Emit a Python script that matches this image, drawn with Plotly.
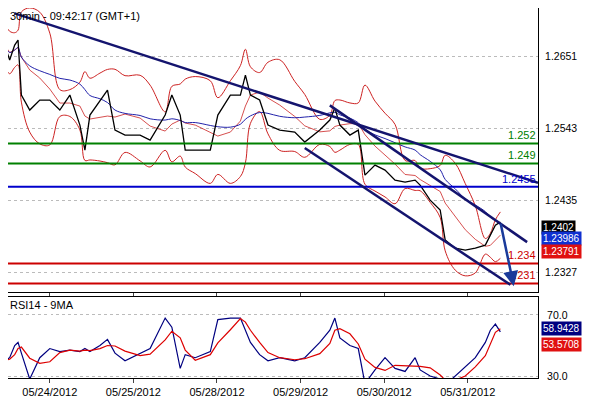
import plotly.graph_objects as go
from plotly.subplots import make_subplots
import pandas as pd

# time in trading days from 05/24/2012 00:00
t_day = [-0.54, -0.48, -0.42, -0.38, -0.34, -0.24, -0.12, 0, 0.12, 0.24, 0.36, 0.42, 0.48, 0.6, 0.69, 0.78,
         0.9, 1.08, 1.2, 1.38, 1.46, 1.56, 1.62, 1.74, 1.92, 2.01, 2.16, 2.28, 2.34, 2.4, 2.51, 2.61, 2.75,
         2.93, 3.05, 3.23, 3.35, 3.41, 3.47, 3.59, 3.69, 3.77, 3.89, 4.01, 4.13, 4.25, 4.37, 4.43, 4.55,
         4.67, 4.73, 4.85, 4.97, 5.09, 5.21, 5.27, 5.33, 5.39]
price = [1.26675, 1.2645, 1.26675, 1.2675, 1.25925, 1.257, 1.2585, 1.2585, 1.257, 1.25925, 1.25475, 1.251,
         1.25625, 1.2585, 1.26, 1.254, 1.25325, 1.25325, 1.2525, 1.25625, 1.25925, 1.25625, 1.251, 1.251,
         1.251, 1.25625, 1.25925, 1.25925, 1.26225, 1.25925, 1.2585, 1.25475, 1.254, 1.2537, 1.2522,
         1.254, 1.2555, 1.2573, 1.25475, 1.25325, 1.254, 1.24725, 1.24875, 1.248, 1.2465, 1.2462, 1.2465,
         1.24575, 1.2435, 1.242, 1.2375, 1.2363, 1.236, 1.2363, 1.23675, 1.23825, 1.23975, 1.2402]
rsi = [40, 42, 50, 52, 45, 28, 42, 48, 46, 47, 46, 48, 46, 50, 54, 45, 40, 45, 48, 68, 62, 35, 44, 42, 46,
       67, 68, 68, 60, 52, 44, 40, 42, 40, 42, 52, 60, 68, 55, 50, 48, 25, 34, 42, 35, 33, 42, 34, 30,
       28, 24, 30, 36, 42, 52, 60, 64, 58.9]

levels = [1.252, 1.249, 1.2455, 1.234, 1.231]
level_colors = ["green", "green", "#0000cc", "#cc0000", "#cc0000"]
price_ticks = [1.2327, 1.2435, 1.2543, 1.2651]
date_ticks = [0, 1, 2, 3, 4, 5]
date_labels = ["05/24/2012", "05/25/2012", "05/28/2012", "05/29/2012", "05/30/2012", "05/31/2012"]

s = pd.Series(price)
mid = s.rolling(5, min_periods=1).mean()
sd = s.rolling(5, min_periods=2).std().bfill()
upper, lower = mid + 2 * sd, mid - 2 * sd
ma = s.rolling(12, min_periods=1).mean()
rsi_ma = pd.Series(rsi).rolling(3, min_periods=1).mean()

fig = make_subplots(rows=2, cols=1, shared_xaxes=True)
fig.add_trace(go.Scatter(x=t_day, y=upper, line=dict(color="#cc2222", width=1), line_shape="spline"), 1, 1)
fig.add_trace(go.Scatter(x=t_day, y=lower, line=dict(color="#cc2222", width=1), line_shape="spline"), 1, 1)
fig.add_trace(go.Scatter(x=t_day, y=mid, line=dict(color="#cc2222", width=0.8)), 1, 1)
fig.add_trace(go.Scatter(x=t_day, y=ma, line=dict(color="#2222aa", width=1), line_shape="spline"), 1, 1)
fig.add_trace(go.Scatter(x=t_day, y=price, line=dict(color="black", width=1.3)), 1, 1)
fig.add_trace(go.Scatter(x=t_day, y=rsi, line=dict(color="#000080", width=1.2)), 2, 1)
fig.add_trace(go.Scatter(x=t_day, y=rsi_ma, line=dict(color="#dd0000", width=1.2)), 2, 1)

for lv, c in zip(levels, level_colors):
    fig.add_hline(y=lv, line=dict(color=c, width=2), row=1, col=1)
    fig.add_annotation(x=1, xref="x domain", y=lv, yref="y", text=str(lv), showarrow=False,
                       xanchor="right", yanchor="bottom", font=dict(color=c, size=11))

navy = "#14146e"
# trend lines / channel
for x0, y0, x1, y1 in [(-0.42, 1.2715, 5.84, 1.2461), (3.35, 1.2577, 5.71, 1.2372), (3.05, 1.2513, 5.51, 1.2308)]:
    fig.add_shape(type="line", x0=x0, y0=y0, x1=x1, y1=y1, line=dict(color=navy, width=2.5), row=1, col=1)
fig.add_annotation(x=5.55, y=1.2306, ax=5.39, ay=1.2402, xref="x", yref="y", axref="x", ayref="y",
                   arrowhead=2, arrowsize=1.2, arrowwidth=2.5, arrowcolor="#1a3a9a", text="")

for txt, yv, bg, yr in [("1.2402", 1.23945, "black", "y"), ("1.23986", 1.2377, "#1030d0", "y"),
                        ("1.23791", 1.2358, "#e01010", "y"), ("58.9428", 61, "#000080", "y2"),
                        ("53.5708", 50.5, "#e01010", "y2")]:
    fig.add_annotation(x=1.005, xref="paper", y=yv, yref=yr, text=txt, showarrow=False, xanchor="left",
                       bgcolor=bg, font=dict(color="white", size=10), borderpad=1)

fig.add_annotation(x=0, y=1, xref="paper", yref="paper", text="30min - 09:42:17 (GMT+1)", showarrow=False,
                   xanchor="left", yanchor="top", font=dict(size=11, color="black"))
fig.add_annotation(x=0, y=0.219, xref="paper", yref="paper", text="RSI14 - 9MA", showarrow=False,
                   xanchor="left", yanchor="top", font=dict(size=11, color="black"))

grid = dict(showgrid=True, gridcolor="#bbbbbb", griddash="dot", showline=True, linecolor="black", mirror=True)
fig.update_xaxes(range=[-0.5, 5.84], tickvals=date_ticks, ticktext=date_labels, ticks="outside",
                 ticklen=4, showgrid=False, showline=True, linecolor="black", mirror=True)
fig.update_yaxes(side="right", range=[1.2297, 1.2723], tickvals=price_ticks, ticktext=[f"{v:.4f}" for v in price_ticks],
                 ticklabelstandoff=4, tickfont=dict(size=10.5), domain=[0.232, 1], **grid, row=1, col=1)
fig.update_yaxes(side="right", range=[28.7, 81.8], tickvals=[30, 70], ticktext=["30.0", "70.0"],
                 ticklabelstandoff=6, tickfont=dict(size=10.5), domain=[0, 0.219], **grid, row=2, col=1)
fig.update_layout(width=574, height=392, showlegend=False, plot_bgcolor="white", paper_bgcolor="white",
                  margin=dict(l=0, r=44, t=0, b=22, autoexpand=False),
                  font=dict(family="Liberation Sans", size=11, color="black"))
fig.write_html("out.html")
